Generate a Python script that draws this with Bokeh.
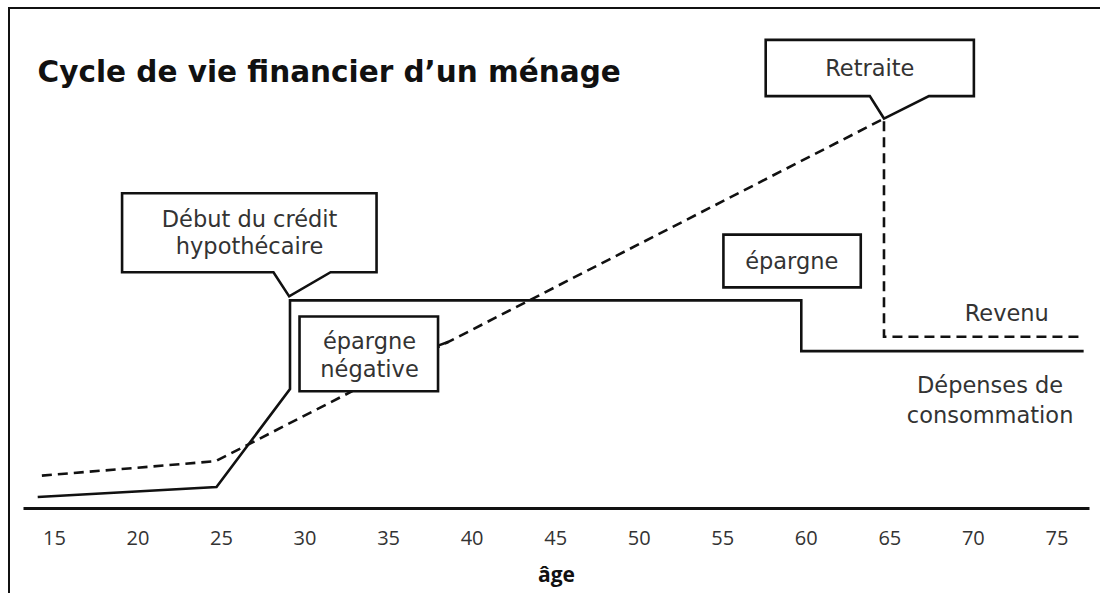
from bokeh.plotting import figure
from bokeh.models import Range1d, FixedTicker, Label
from bokeh.embed import file_html
from bokeh.resources import INLINE
from bokeh.core.properties import value

# ---- data (age in years, amount in arbitrary units) ----
ages_depenses = [14.0, 24.7, 29.1, 29.1, 59.7, 59.7, 76.6]
depenses = [2.3, 4.3, 24.0, 41.8, 41.8, 31.6, 31.6]
ages_revenu = [14.25, 24.65, 64.65, 64.65, 76.6]
revenu = [6.6, 9.5, 78.3, 34.5, 34.5]
tick_ages = [15, 20, 25, 30, 35, 40, 45, 50, 55, 60, 65, 70, 75]

title_text = "Cycle de vie financier d’un ménage"
axis_title = "âge"

# callout boxes (age, amount)
box_xs = [
    [19.05, 34.28, 34.28, 31.53, 29.05, 28.11, 19.05],
    [29.67, 37.96, 37.96, 29.67],
    [55.04, 63.26, 63.26, 55.04],
    [57.57, 70.03, 70.03, 67.34, 64.65, 63.80, 57.57],
]
box_ys = [
    [63.3, 63.3, 47.45, 47.45, 42.6, 47.45, 47.45],
    [38.55, 38.55, 23.55, 23.55],
    [55.0, 55.0, 44.4, 44.4],
    [94.1, 94.1, 82.8, 82.8, 78.3, 82.8, 82.8],
]
box_text_x = [26.68, 26.68, 33.86, 33.86, 59.13, 63.80]
box_text_y = [58.2, 52.8, 33.7, 28.1, 49.7, 88.45]
box_texts = ["Début du crédit", "hypothécaire", "épargne", "négative", "épargne", "Retraite"]

series_label_x = [72.0, 71.0, 71.0]
series_label_y = [39.2, 24.7, 18.7]
series_labels = ["Revenu", "Dépenses de", "consommation"]

stub_x = [37.96, 38.6]
stub_y = [32.7, 33.5]

FONT = "DejaVu Sans"
TICK_FONT = "Open Sans"

p = figure(width=1092, height=586,
           x_range=Range1d(13.15, 76.95), y_range=Range1d(0, 100),
           output_backend="svg", toolbar_location=None,
           y_axis_location=None,
           min_border_left=13, min_border_right=13,
           min_border_top=1, min_border_bottom=87)
p.styles = {"border-top": "2px solid #111", "border-left": "2px solid #111",
            "margin-top": "7px", "margin-left": "8px"}
p.outline_line_color = None
p.xgrid.visible = False
p.ygrid.visible = False
p.background_fill_color = "white"
p.border_fill_color = "white"

ax = p.xaxis[0]
ax.ticker = FixedTicker(ticks=tick_ages)
ax.axis_line_width = 3
ax.axis_line_color = "#111"
ax.major_tick_line_color = None
ax.minor_tick_line_color = None
ax.major_label_standoff = 16
ax.major_label_text_font = TICK_FONT
ax.major_label_text_font_size = "20px"
ax.major_label_text_color = "#333"
ax.axis_label = axis_title
ax.axis_label_text_font = TICK_FONT
ax.axis_label_text_font_size = "21px"
ax.axis_label_text_font_style = "bold"
ax.axis_label_text_color = "#111"
ax.axis_label_standoff = 12

# series
p.line(ages_revenu, revenu, line_width=2.6, line_color="#111",
       line_dash="10 6", line_join="miter")
p.line(ages_depenses, depenses, line_width=2.6, line_color="#111",
       line_join="miter")

# callouts
p.patches(box_xs, box_ys, fill_color="white", line_color="#111",
          line_width=2.6, line_join="miter")
p.line(stub_x, stub_y, line_width=2.6, line_color="#111")
p.text(box_text_x, box_text_y, text=box_texts, text_align="center",
       text_baseline="middle", text_font=value(FONT),
       text_font_size="22.5px", text_color="#333")
p.text(series_label_x, series_label_y, text=series_labels, text_align="center",
       text_baseline="middle", text_font=value(FONT),
       text_font_size="22.5px", text_color="#333")

p.add_layout(Label(x=13.99, y=87.6, text=title_text, text_font=FONT,
                   text_font_size="29.5px", text_font_style="bold",
                   text_color="#111", text_baseline="alphabetic"))

open("out.html", "w").write(file_html(p, INLINE))
